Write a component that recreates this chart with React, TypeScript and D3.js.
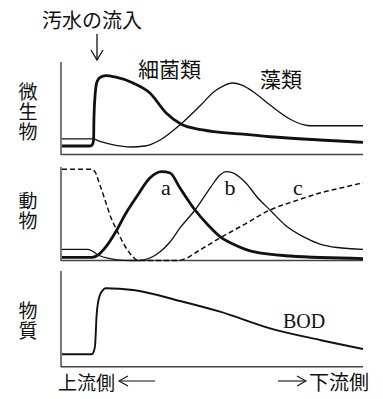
import React from "react";
import * as d3 from "d3";

// distance along river (0 = left edge, 100 = right edge), value 0..100 within each panel
const bacteriaX = [0, 9.3, 10, 10.5, 10.6, 11.0, 11.6, 12.6, 14.6, 17.6, 23.6, 29.2, 34.6, 39.5, 46.8, 59.1, 69.1, 85.7, 100];
const bacteriaY = [9.2, 9.2, 10.3, 15.7, 37.3, 64.3, 78.4, 83.2, 85.2, 83.8, 77.3, 66.5, 44.9, 33.0, 26.5, 22.2, 19.2, 15.7, 13.2];

const algaeX = [0, 10.3, 12.6, 18.3, 22.6, 27.6, 32.6, 39.5, 45.8, 50.8, 54.2, 56.5, 59.8, 64.1, 69.1, 75.7, 80.1, 82.4, 100];
const algaeY = [16.8, 16.8, 14.1, 9.7, 8.1, 9.2, 15.7, 33.0, 52.4, 68.6, 75.1, 77.3, 75.1, 66.5, 53.5, 38.4, 32.4, 31.1, 31.1];

const aX = [0, 10, 12, 14.3, 18.2, 20.9, 24.8, 29.2, 33.1, 35.9, 39.2, 44.2, 48.5, 52.5, 57.5, 63.5, 75.7, 100];
const aY = [3.4, 3.4, 5.9, 13.4, 32.6, 48.7, 68.2, 88.2, 95.0, 93.6, 77.5, 54.0, 38.0, 25.5, 16.6, 9.4, 4.8, 2.1];

const bX = [0, 8.6, 10, 12, 15.9, 20.9, 25.9, 29.2, 32.6, 35.9, 39.2, 44.2, 49.2, 52.5, 54.5, 56.5, 60.8, 65.1, 69.1, 74.1, 80.1, 85.7, 91.4, 100];
const bY = [12.0, 12.0, 10.2, 5.9, 2.1, 0.2, 0, 2.7, 9.4, 19.8, 34.8, 54.0, 77.5, 91.4, 95.0, 94.1, 84.0, 66.8, 54.0, 38.0, 25.5, 17.6, 13.9, 12.0];

const cX = [0, 10, 11, 12.6, 14.3, 16.3, 18.2, 20.9, 23.3, 24.9, 29.2, 38.5, 40.2, 45.8, 52.5, 60.8, 69.1, 77.4, 85.7, 94.0, 100];
const cY = [97.5, 97.5, 94.7, 80.7, 64.7, 45.5, 32.6, 15.5, 4.8, 0.5, 0, 0, 1.1, 11.2, 24.1, 39.0, 54.0, 63.6, 72.2, 78.6, 83.2];

const bodX = [0, 9.9, 10.6, 11.0, 11.5, 12.0, 12.6, 13.6, 14.6, 23.6, 39.2, 52.5, 69.1, 85.7, 100];
const bodY = [13.0, 13.0, 16.4, 22.7, 54.0, 67.6, 74.9, 80.1, 81.9, 80.1, 68.7, 57.5, 40.1, 27.9, 18.5];

const panelLabels = ["微生物", "動物", "物質"];
const topLabel = "汚水の流入";
const bacteriaLabel = "細菌類";
const algaeLabel = "藻類";
const animalLabels = ["a", "b", "c"];
const bodLabel = "BOD";
const upLabel = "上流側";
const downLabel = "下流側";

const W = 383;
const H = 399;
const JP = "'Noto Sans CJK JP', sans-serif";
const SERIF = "'Liberation Serif', 'DejaVu Serif', serif";

const x = d3.scaleLinear().domain([0, 100]).range([62, 363]);
const panels = [
  { top: 62, bottom: 154.5, labelTop: 82 },
  { top: 167, bottom: 260.5, labelTop: 191 },
  { top: 271, bottom: 366.7, labelTop: 301 },
];
const yScales = panels.map((p) => d3.scaleLinear().domain([0, 100]).range([p.bottom, p.top]));

function pathFor(xs: number[], ys: number[], yi: number) {
  const y = yScales[yi];
  const line = d3
    .line<number>()
    .x((_, i) => x(xs[i]))
    .y((v) => y(v))
    .curve(d3.curveMonotoneX);
  return line(ys) || "";
}

export default function App() {
  const axisColor = "#222";
  return (
    <svg
      width={W}
      height={H}
      viewBox={`0 0 ${W} ${H}`}
      style={{ position: "absolute", left: 0, top: 0, background: "#fff" }}
    >
      <rect x={0} y={0} width={W} height={H} fill="#fff" />
      {/* axes */}
      {panels.map((p, i) => (
        <g key={i}>
          <line x1={61} x2={61} y1={p.top} y2={p.bottom + 0.5} stroke={axisColor} strokeWidth={1.2} />
          <line x1={61} x2={363} y1={p.bottom} y2={p.bottom} stroke="#444" strokeWidth={1.6} />
        </g>
      ))}

      {/* panel 1 */}
      <path d={pathFor(algaeX, algaeY, 0)} fill="none" stroke="#111" strokeWidth={1.3} />
      <path d={pathFor(bacteriaX, bacteriaY, 0)} fill="none" stroke="#111" strokeWidth={2.8} />

      {/* panel 2 */}
      <path d={pathFor(cX, cY, 1)} fill="none" stroke="#111" strokeWidth={1.5} strokeDasharray="5,3" />
      <path d={pathFor(bX, bY, 1)} fill="none" stroke="#111" strokeWidth={1.3} />
      <path d={pathFor(aX, aY, 1)} fill="none" stroke="#111" strokeWidth={2.8} />

      {/* panel 3 */}
      <path d={pathFor(bodX, bodY, 2)} fill="none" stroke="#111" strokeWidth={1.9} />

      {/* side labels (vertical writing) */}
      {panelLabels.map((label, pi) => (
        <text
          key={`p${pi}`}
          x={28}
          y={panels[pi].labelTop}
          fontSize={19}
          fontFamily={JP}
          fill="#111"
          style={{ writingMode: "vertical-rl", letterSpacing: "1px" }}
        >
          {label}
        </text>
      ))}

      {/* top label and arrow */}
      <text x={42} y={28} fontSize={20} fontFamily={JP} fill="#111">{topLabel}</text>
      <line x1={97} x2={97} y1={34} y2={60} stroke="#111" strokeWidth={1.3} />
      <path d="M91,50 L97,60 L103,50" fill="none" stroke="#111" strokeWidth={1.3} />

      <text x={138} y={77} fontSize={21} fontFamily={JP} fill="#111">{bacteriaLabel}</text>
      <text x={260} y={87} fontSize={21} fontFamily={JP} fill="#111">{algaeLabel}</text>

      <text x={166} y={195} fontSize={22} fontFamily={SERIF} textAnchor="middle" fill="#111">{animalLabels[0]}</text>
      <text x={230} y={195} fontSize={22} fontFamily={SERIF} textAnchor="middle" fill="#111">{animalLabels[1]}</text>
      <text x={298} y={195} fontSize={22} fontFamily={SERIF} textAnchor="middle" fill="#111">{animalLabels[2]}</text>

      <text x={283} y={328} fontSize={20} fontFamily={SERIF} fill="#111">{bodLabel}</text>

      {/* bottom labels */}
      <text x={58} y={390} fontSize={19} fontFamily={JP} fill="#111">{upLabel}</text>
      <line x1={120} x2={155} y1={381} y2={381} stroke="#111" strokeWidth={1.1} />
      <path d="M128,376 L119,381 L128,386" fill="none" stroke="#111" strokeWidth={1.1} />
      <line x1={278} x2={305} y1={381} y2={381} stroke="#111" strokeWidth={1.1} />
      <path d="M297,376 L306,381 L297,386" fill="none" stroke="#111" strokeWidth={1.1} />
      <text x={309} y={390} fontSize={20} fontFamily={JP} fill="#111">{downLabel}</text>
    </svg>
  );
}
